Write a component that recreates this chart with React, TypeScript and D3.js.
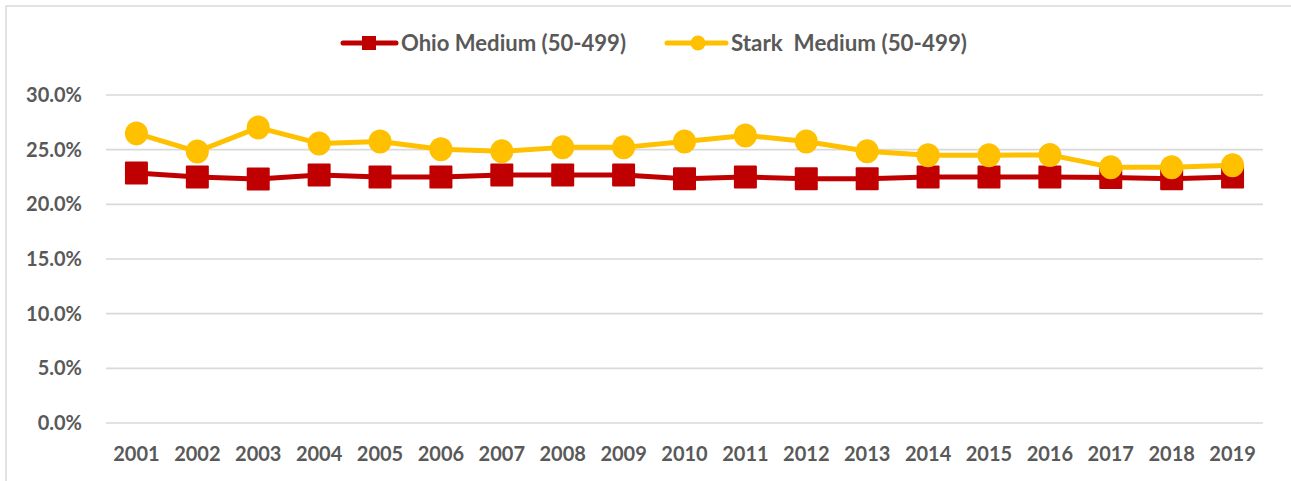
import React, { useEffect } from 'react'
import * as d3 from 'd3'

const years = ['2001', '2002', '2003', '2004', '2005', '2006', '2007', '2008', '2009', '2010',
  '2011', '2012', '2013', '2014', '2015', '2016', '2017', '2018', '2019']
const ohioMedium = [22.86, 22.5, 22.32, 22.68, 22.5, 22.5, 22.68, 22.68, 22.68, 22.35,
  22.5, 22.35, 22.35, 22.5, 22.5, 22.5, 22.45, 22.35, 22.5]
const starkMedium = [26.49, 24.83, 27.02, 25.57, 25.75, 25.03, 24.85, 25.21, 25.21, 25.75,
  26.3, 25.75, 24.85, 24.49, 24.49, 24.52, 23.4, 23.4, 23.58]
const yTicks = [0, 5, 10, 15, 20, 25, 30]
const seriesNames = ['Ohio Medium (50-499)', 'Stark  Medium (50-499)']

const RED = '#C00000'
const GOLD = '#FFC000'
const TEXT = '#595959'
const GRID = '#D9D9D9'
const FONT = 'Lato, "Open Sans", sans-serif'

function App() {
  useEffect(() => {
    document.body.style.margin = '0'
  }, [])

  const width = 1291
  const height = 481
  const left = 106
  const right = 1263
  const top = 95
  const bottom = 423

  const x = d3.scaleBand<string>().domain(years).range([left, right]).padding(0)
  const y = d3.scaleLinear().domain([0, 30]).range([bottom, top])
  const cx = (yr: string) => (x(yr) as number) + x.bandwidth() / 2

  const line = d3
    .line<number>()
    .x((_, i) => cx(years[i]))
    .y(d => y(d))

  const msize = 23

  return (
    <svg width={width} height={height} style={{ display: 'block', background: '#fff' }}>
      <rect x={6} y={6} width={1400} height={600} fill="#fff" stroke={GRID} strokeWidth={1.5} />

      {/* grid + y axis labels */}
      {yTicks.map(t => (
        <g key={t}>
          <line x1={left} x2={right} y1={y(t)} y2={y(t)} stroke={GRID} strokeWidth={1.6} />
          <text
            x={82}
            y={y(t)}
            dy="0.35em"
            textAnchor="end"
            fontFamily={FONT}
            fontWeight={700}
            fontSize={20}
            fill={TEXT}
          >
            {t.toFixed(1) + '%'}
          </text>
        </g>
      ))}

      {/* x axis labels */}
      {years.map(yr => (
        <text
          key={yr}
          x={cx(yr)}
          y={461}
          textAnchor="middle"
          fontFamily={FONT}
          fontWeight={700}
          fontSize={20}
          fill={TEXT}
        >
          {yr}
        </text>
      ))}

      {/* Ohio series */}
      <path d={line(ohioMedium) || ''} fill="none" stroke={RED} strokeWidth={5} strokeLinejoin="round" />
      {ohioMedium.map((v, i) => (
        <rect
          key={i}
          x={cx(years[i]) - msize / 2}
          y={y(v) - msize / 2}
          width={msize}
          height={msize}
          rx={1}
          fill={RED}
        />
      ))}

      {/* Stark series */}
      <path d={line(starkMedium) || ''} fill="none" stroke={GOLD} strokeWidth={5} strokeLinejoin="round" />
      {starkMedium.map((v, i) => (
        <ellipse key={i} cx={cx(years[i])} cy={y(v)} rx={11.5} ry={12} fill={GOLD} />
      ))}

      {/* legend */}
      <g>
        <line x1={343} x2={396} y1={43} y2={43} stroke={RED} strokeWidth={5} strokeLinecap="round" />
        <rect x={362} y={36} width={14} height={14} fill={RED} />
        <text x={401} y={43} dy="0.35em" fontFamily={FONT} fontWeight={700} fontSize={22} fill={TEXT}
          textLength={225} lengthAdjust="spacingAndGlyphs">
          {seriesNames[0]}
        </text>
        <line x1={667} x2={726} y1={43} y2={43} stroke={GOLD} strokeWidth={5} strokeLinecap="round" />
        <circle cx={698} cy={43} r={7.5} fill={GOLD} />
        <text
          x={731}
          y={43}
          dy="0.35em"
          fontFamily={FONT}
          fontWeight={700}
          fontSize={22}
          fill={TEXT}
          textLength={236}
          lengthAdjust="spacingAndGlyphs"
          style={{ whiteSpace: 'pre' }}
        >
          {seriesNames[1]}
        </text>
      </g>
    </svg>
  )
}

export default App
